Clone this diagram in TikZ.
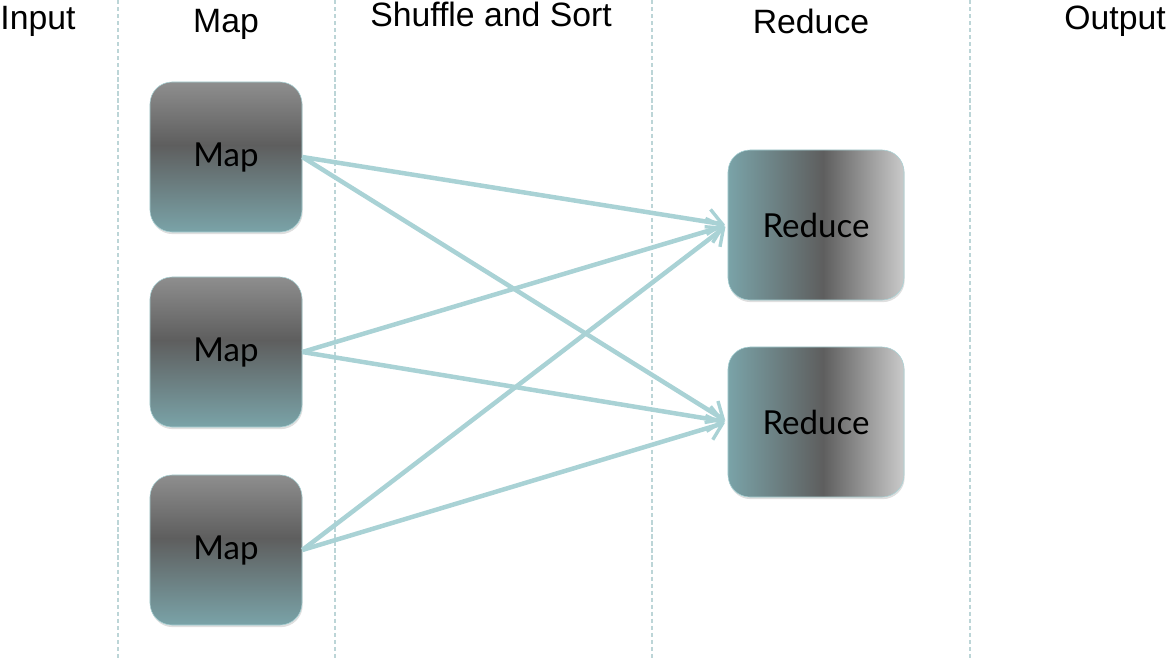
\documentclass[tikz,border=0pt]{standalone}
\usepackage{fontspec}
\setmainfont{Liberation Sans}
\newfontfamily\boxfont{Lato}
\usetikzlibrary{positioning,shadows,arrows.meta}

\definecolor{linkteal}{HTML}{A9D2D5}
\definecolor{septeal}{HTML}{BCD5D7}
\definecolor{boxteal}{HTML}{7AA3A8}
\definecolor{boxdark}{HTML}{5E5E5E}
\definecolor{boxgray}{HTML}{8E8E8E}
\definecolor{boxlight}{HTML}{CACACA}

\pgfdeclareverticalshading{mapshade}{100bp}{color(0bp)=(boxteal); color(25bp)=(boxteal);
    color(54bp)=(boxdark); color(75bp)=(boxgray); color(100bp)=(boxgray)}
\pgfdeclarehorizontalshading{redshade}{100bp}{color(0bp)=(boxteal); color(25bp)=(boxteal);
    color(52bp)=(boxdark); color(75bp)=(boxlight); color(100bp)=(boxlight)}

\tikzset{
  header/.style = {font=\fontsize{24}{28}\selectfont, inner sep=0pt, anchor=north},
  mapbox/.style = {shape=rectangle, rounded corners=0.55cm, draw=linkteal, thin,
      minimum width=3.8cm, minimum height=3.75cm, shading=mapshade,
      drop shadow={shadow xshift=0.5pt, shadow yshift=-1.5pt, opacity=0.25},
      font=\boxfont\fontsize{23.5}{27}\selectfont},
  redbox/.style = {mapbox, minimum width=4.4cm, shading=redshade},
  link/.style = {draw=linkteal, line width=3.2pt,
      -{Straight Barb[length=10pt, width=18pt, line width=2.4pt]}, shorten >=2pt},
  sepline/.style = {draw=septeal, line width=1.2pt, dash pattern=on 3pt off 2pt}
}

\begin{document}
\begin{tikzpicture}[x=0.025cm, y=-0.025cm]
    \useasboundingbox (0,0) rectangle (1166,658);

    % column separators
    \foreach \sx in {118, 335, 652, 970}
        \draw[sepline] (\sx,0) -- (\sx,658);

    % column titles
    \node[header] (tin) at (38,6) {Input};
    \node[header] (tmap) at (226,9) {Map};
    \node[header] (tshuffle) at (491,2) {Shuffle and Sort};
    \node[header] (tred) at (811,9) {Reduce};
    \node[header, anchor=north east] (tout) at (1166,6) {Output};

    % map tasks
    \node[mapbox] (map1) at (226,157) {Map};
    \node[mapbox] (map2) at (226,352) {Map};
    \node[mapbox] (map3) at (226,550) {Map};

    % reduce tasks
    \node[redbox] (red1) at (816,225) {Reduce};
    \node[redbox] (red2) at (816,422) {Reduce};

    % shuffle
    \foreach \m in {map1, map2, map3}
        \foreach \r in {red1, red2}
            \draw[link] (\m.east) -- (\r.west);
\end{tikzpicture}
\end{document}
